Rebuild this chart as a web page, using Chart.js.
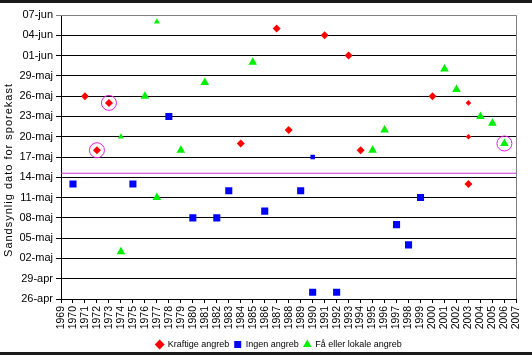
<!DOCTYPE html>
<html><head><meta charset="utf-8">
<script src="https://cdn.jsdelivr.net/npm/chart.js@4"></script>
<style>html,body{margin:0;padding:0;background:#fff}#wrap{width:532px;height:356px}</style>
</head><body><div id="wrap"><canvas id="c" width="532" height="356"></canvas></div>
<script>
// Y tick labels (every 3 days from 26-apr to 07-jun)
const yTickLabels = ['26-apr','29-apr','02-maj','05-maj','08-maj','11-maj','14-maj','17-maj','20-maj','23-maj','26-maj','29-maj','01-jun','04-jun','07-jun'];
const yearMin = 1969, yearMax = 2007;

// Kraftige angreb
const kraftigeYears = [1971, 1972, 1973, 1984, 1987, 1988, 1991, 1993, 1994, 2000, 2003];
const kraftigeDates = ['26-maj','18-maj','25-maj','19-maj','05-jun','21-maj','04-jun','01-jun','18-maj','26-maj','13-maj'];
const kraftigeSmallYears = [2003, 2003];
const kraftigeSmallDates = ['25-maj','20-maj'];

// Ingen angreb
const ingenYears = [1970, 1975, 1978, 1980, 1982, 1983, 1986, 1989, 1990, 1992, 1997, 1998, 1999];
const ingenDates = ['13-maj','13-maj','23-maj','08-maj','08-maj','12-maj','09-maj','12-maj','27-apr','27-apr','07-maj','04-maj','11-maj'];
const ingenSmallYears = [1990];
const ingenSmallDates = ['17-maj'];

// Få eller lokale angreb
const faaYears = [1974, 1976, 1977, 1979, 1981, 1985, 1995, 1996, 2001, 2002, 2004, 2005, 2006];
const faaDates = ['03-maj','26-maj','11-maj','18-maj','28-maj','31-maj','18-maj','21-maj','30-maj','27-maj','23-maj','22-maj','19-maj'];
const faaSmallYears = [1974, 1977];
const faaSmallDates = ['20-maj','06-jun'];

// Circled observations
const circledYears = [1972, 1973, 2006];
const circledDates = ['18-maj','25-maj','19-maj'];

// Mean line (days after 26-apr, approx. 14/15-maj)
const meanLineDay = 18.6;

const legendNames = ['Kraftige angreb','Ingen angreb','Få eller lokale angreb'];
const yTitle = 'Sandsynlig dato for sporekast';

function dayIndex(s){
  const parts = s.split('-'); const n = +parts[0]; const m = parts[1];
  if (m === 'apr') return n - 26;
  if (m === 'maj') return n + 4;
  return n + 35;
}
function pts(years, dates){ return years.map((y,i)=>({x:y, y:dayIndex(dates[i])})); }

const FONT = '"Liberation Sans", Arial, sans-serif';
const RED = '#ff0000', BLUE = '#0000ff', GREEN = '#00f000', PINK = '#e020e0';

function sc(label, data, style, radius, color, extra){
  return Object.assign({type:'scatter', label, data, pointStyle:style, pointRadius:radius, pointHoverRadius:radius,
    backgroundColor:color, borderColor:color, pointBorderWidth:0, showLine:false, yAxisID:'y'}, extra||{});
}

const framePlugin = {
  id:'frame',
  afterDraw(chart){
    const ctx = chart.ctx, a = chart.chartArea;
    ctx.save();
    ctx.fillStyle = '#1a1a1a';
    ctx.fillRect(0,0,532,3);
    ctx.fillRect(0,352,532,3);
    ctx.strokeStyle = '#808080'; ctx.lineWidth = 1;
    ctx.beginPath();
    ctx.moveTo(a.left, a.top+0.5); ctx.lineTo(Math.round(a.right)+0.5, a.top+0.5);
    ctx.lineTo(Math.round(a.right)+0.5, a.bottom);
    ctx.stroke();
    ctx.translate(9, 170);
    ctx.rotate(-Math.PI/2);
    ctx.fillStyle = '#000';
    ctx.font = '11px ' + FONT;
    try { ctx.letterSpacing = '1px'; } catch(e) {}
    ctx.textAlign = 'center'; ctx.textBaseline = 'middle';
    ctx.fillText(yTitle, 0, 0);
    ctx.restore();
  }
};

new Chart(document.getElementById('c'), {
  data: {
    datasets: [
      sc(legendNames[0], pts(kraftigeYears, kraftigeDates), 'rectRot', 4, RED),
      sc(legendNames[1], pts(ingenYears, ingenDates), 'rect', 5, BLUE),
      sc(legendNames[2], pts(faaYears, faaDates), 'triangle', 5, GREEN),
      sc('k-small', pts(kraftigeSmallYears, kraftigeSmallDates), 'rectRot', 2.8, RED),
      sc('i-small', pts(ingenSmallYears, ingenSmallDates), 'rect', 3.2, BLUE),
      sc('f-small', pts(faaSmallYears, faaSmallDates), 'triangle', 3.4, GREEN),
      sc('circled', pts(circledYears, circledDates), 'circle', 7.5, 'rgba(0,0,0,0)', {borderColor:PINK, pointBorderWidth:1}),
      {type:'line', label:'mean', yAxisID:'y', data:[{x:yearMin,y:meanLineDay},{x:yearMax,y:meanLineDay}],
        borderColor:'#cc33cc', borderWidth:1, pointRadius:0, fill:false}
    ]
  },
  options: {
    responsive:false, animation:false, devicePixelRatio:1,
    layout:{padding:{top:15, right:-26, left:0, bottom:-3}},
    plugins:{
      tooltip:{enabled:false},
      legend:{
        position:'bottom',
        labels:{
          usePointStyle:true, boxWidth:7, boxHeight:7, padding:5, color:'#000',
          font:{family:FONT, size:9},
          filter:(item)=>item.datasetIndex < 3
        }
      }
    },
    scales:{
      x:{
        type:'linear', min:yearMin, max:yearMax,
        afterFit(s){ s.height = 36; },
        grid:{drawOnChartArea:false, drawTicks:true, tickLength:4, color:'#000'},
        border:{color:'#000'},
        ticks:{stepSize:1, autoSkip:false, maxRotation:90, minRotation:90, padding:3, color:'#000',
          font:{family:FONT, size:10.5}, callback:(v)=>String(v)}
      },
      y:{
        type:'linear', position:'left', min:0, max:42,
        afterFit(s){ s.width = 61; },
        grid:{color:(c)=> (c.tick && c.tick.value === 42) ? '#808080' : '#000', tickLength:5},
        border:{color:'#000'},
        ticks:{stepSize:3, padding:3, color:'#000', font:{family:FONT, size:11},
          callback:(v)=> yTickLabels[Math.round(v/3)]}
      },
      yPad:{
        type:'linear', position:'right', min:0, max:42, display:true,
        afterFit(s){ s.width = 33; },
        grid:{display:false, drawOnChartArea:false}, border:{display:false},
        ticks:{display:false}
      }
    }
  },
  plugins:[framePlugin]
});
</script></body></html>
